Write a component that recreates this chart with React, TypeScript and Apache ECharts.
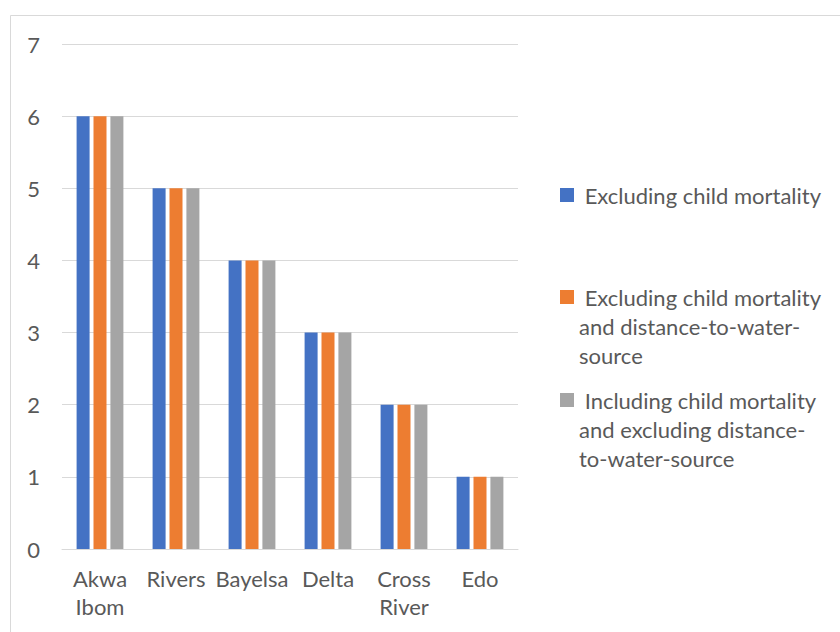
import React, { useEffect, useRef } from "react";
import * as echarts from "echarts";

const categories = ["Akwa\nIbom", "Rivers", "Bayelsa", "Delta", "Cross\nRiver", "Edo"];
const seriesNames = [
  "Excluding child mortality",
  "Excluding child mortality and distance-to-water-source",
  "Including child mortality and excluding distance-to-water-source",
];
const legendLines = [
  [" Excluding child mortality"],
  [" Excluding child mortality", "and distance-to-water-", "source"],
  [" Including child mortality", "and excluding distance-", "to-water-source"],
];
const excludingChildMortality = [6, 5, 4, 3, 2, 1];
const excludingBoth = [6, 5, 4, 3, 2, 1];
const includingChildMortality = [6, 5, 4, 3, 2, 1];
const colors = ["#4472C4", "#ED7D31", "#A5A5A5"];
const yTicks = { min: 0, max: 7, interval: 1 };

const FONT = "Lato";
const FONT_SIZE = 22;
const LINE_H = 29;
const SQ = 14;
const legendCenters = [195, 297, 400];

export default function App() {
  const ref = useRef<HTMLDivElement>(null);
  useEffect(() => {
    if (!ref.current) return;
    const chart = echarts.init(ref.current, null, { renderer: "svg" });
    const values = [excludingChildMortality, excludingBoth, includingChildMortality];
    const legends = seriesNames.map((name, i) => {
      const n = legendLines[i].length;
      const iconH = SQ + (n - 1) * LINE_H;
      const icon =
        n === 1
          ? `path://M0,0h${SQ}v${SQ}h-${SQ}z`
          : `path://M0,0h${SQ}v${SQ}h-${SQ}zM0,${iconH - 0.01}h0.01v0.01h-0.01z`;
      const blockTop = iconH / 2 - (n * LINE_H) / 2;
      const top = legendCenters[i] - (SQ / 2 - Math.min(0, blockTop));
      return {
        show: true,
        data: [name],
        left: 560,
        top,
        padding: 0,
        orient: "vertical",
        itemWidth: SQ,
        itemHeight: iconH,
        icon,
        selectedMode: false,
        formatter: () => legendLines[i].join("\n"),
        textStyle: {
          fontFamily: FONT,
          fontSize: FONT_SIZE,
          color: "#595959",
          lineHeight: LINE_H,
        },
      };
    });
    chart.setOption({
      animation: false,
      color: colors,
      textStyle: { fontFamily: FONT },
      grid: { left: 62, right: 322, top: 44, bottom: 83, containLabel: false },
      legend: legends,
      graphic: [
        {
          type: "rect",
          shape: { x: 10.5, y: 15.5, width: 840, height: 640 },
          style: { fill: "none", stroke: "#D9D9D9", lineWidth: 1 },
          silent: true,
        },
      ],
      xAxis: {
        type: "category",
        data: categories,
        axisLine: { lineStyle: { color: "#D9D9D9", width: 1 } },
        axisTick: { show: false },
        axisLabel: {
          fontFamily: FONT,
          fontSize: FONT_SIZE,
          color: "#595959",
          lineHeight: 28,
          margin: 15,
          interval: 0,
        },
      },
      yAxis: {
        type: "value",
        min: yTicks.min,
        max: yTicks.max,
        interval: yTicks.interval,
        axisLine: { show: false },
        axisTick: { show: false },
        splitLine: { lineStyle: { color: "#D9D9D9", width: 1 } },
        axisLabel: { fontFamily: FONT, fontSize: FONT_SIZE, color: "#595959", margin: 22 },
      },
      series: seriesNames.map((name, i) => ({
        name,
        type: "bar",
        data: values[i],
        barWidth: 13,
        barGap: "30%",
        itemStyle: { color: colors[i] },
      })),
    });
    return () => chart.dispose();
  }, []);
  return (
    <div
      ref={ref}
      style={{ position: "fixed", left: 0, top: 0, width: 840, height: 632, background: "#fff" }}
    />
  );
}
